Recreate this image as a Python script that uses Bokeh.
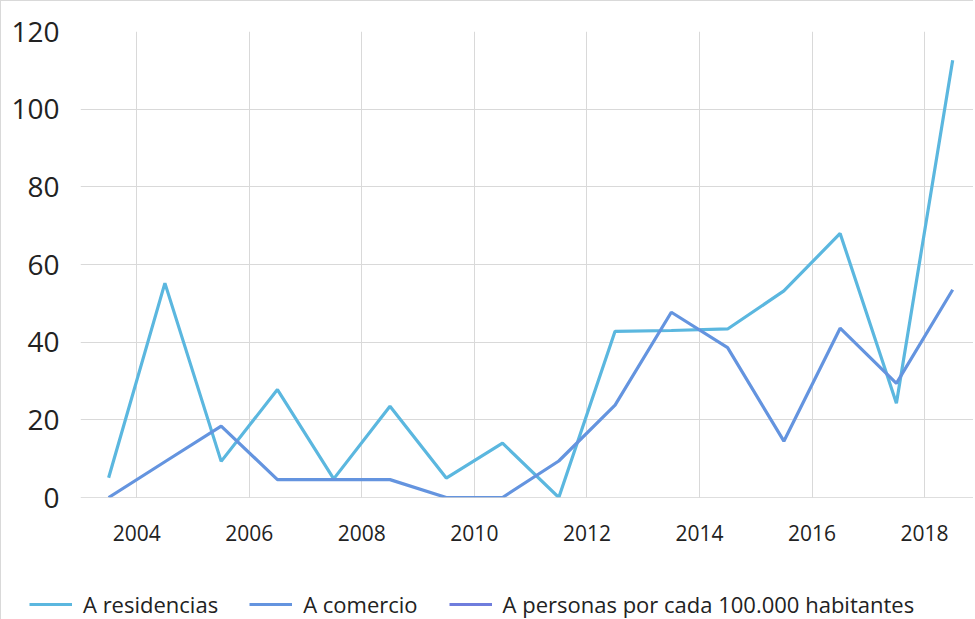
from bokeh.plotting import figure
from bokeh.layouts import column, row
from bokeh.models import (ColumnDataSource, Range1d, FixedTicker, Legend, LegendItem, Span)
from bokeh.embed import file_html
from bokeh.resources import INLINE

years = [2003, 2004, 2005, 2006, 2007, 2008, 2009, 2010, 2011, 2012,
         2013, 2014, 2015, 2016, 2017, 2018]
residencias = [5.1, 55.2, 9.3, 27.8, 4.8, 23.5, 5.0, 14.0, 0.0, 42.8,
               43.0, 43.4, 53.2, 68.0, 24.3, 112.6]
comercio = [0.0, 9.2, 18.4, 4.6, 4.6, 4.6, 0.0, 0.0, 9.4, 23.8,
            47.7, 38.6, 14.5, 43.6, 29.4, 53.5]
personas = []  # listed in the legend, no values drawn

x_ticks = [2004, 2006, 2008, 2010, 2012, 2014, 2016, 2018]
y_ticks = [0, 20, 40, 60, 80, 100, 120]
series_names = ["A residencias", "A comercio", "A personas por cada 100.000 habitantes"]
colors = ["#5BB7DF", "#6494DF", "#6F7DDD"]

FONT = "Open Sans"
W = 972

mid = [y + 0.5 for y in years]

p = figure(width=W, height=560, output_backend="svg", toolbar_location=None,
           x_range=Range1d(2003, 2018.87), y_range=Range1d(0, 120),
           min_border_left=79, min_border_right=0, min_border_top=30,
           min_border_bottom=64)
p.outline_line_color = None

p.xaxis.ticker = FixedTicker(ticks=x_ticks)
p.yaxis.ticker = FixedTicker(ticks=y_ticks)
for ax in (p.xaxis[0], p.yaxis[0]):
    ax.axis_line_color = None
    ax.major_tick_line_color = None
    ax.minor_tick_line_color = None
    ax.major_label_text_font = FONT
    ax.major_label_text_color = "#222222"
p.xaxis.major_label_text_font_size = "21px"
p.yaxis.major_label_text_font_size = "28px"
p.xaxis.major_label_standoff = 21
p.yaxis.major_label_standoff = 15

p.xgrid.grid_line_color = "#d9d9d9"
p.ygrid.grid_line_color = "#d9d9d9"
p.add_layout(Span(location=0, dimension="width", line_color="#bdbdbd", line_width=1))

src = ColumnDataSource(dict(x=mid, res=residencias, com=comercio))
src3 = ColumnDataSource(dict(x=personas, y=personas))
p.line("x", "res", source=src, line_color=colors[0], line_width=3.2)
p.line("x", "com", source=src, line_color=colors[1], line_width=3.2)
p.line("x", "y", source=src3, line_color=colors[2], line_width=3.2)

# legend strip below the chart (legend keys only; nothing plotted in it)
lg = figure(width=W, height=58, output_backend="svg", toolbar_location=None,
            x_range=Range1d(0, 1), y_range=Range1d(0, 1),
            x_axis_type=None, y_axis_type=None,
            min_border_left=0, min_border_right=0, min_border_top=0, min_border_bottom=0)
lg.outline_line_color = None
lg.grid.visible = False
nan = float("nan")
key_src = ColumnDataSource(dict(x=[nan], y=[nan]))
items = []
for name, c in zip(series_names, colors):
    r = lg.line("x", "y", source=key_src, line_color=c, line_width=3.2)
    items.append(LegendItem(label=name, renderers=[r]))
legend = Legend(items=items, orientation="horizontal", location=(28, 0),
                label_text_font=FONT, label_text_font_size="22px",
                label_text_color="#222222",
                glyph_width=43, glyph_height=22, label_height=22,
                label_standoff=11, spacing=31, padding=0, margin=0,
                border_line_color=None, background_fill_alpha=0)
lg.add_layout(legend, "center")

layout = column(p, row(lg), spacing=0)
layout.styles = {"border-left": "1px solid #d9d9d9", "border-top": "1px solid #d9d9d9"}

open("out.html", "w").write(file_html(layout, INLINE))
